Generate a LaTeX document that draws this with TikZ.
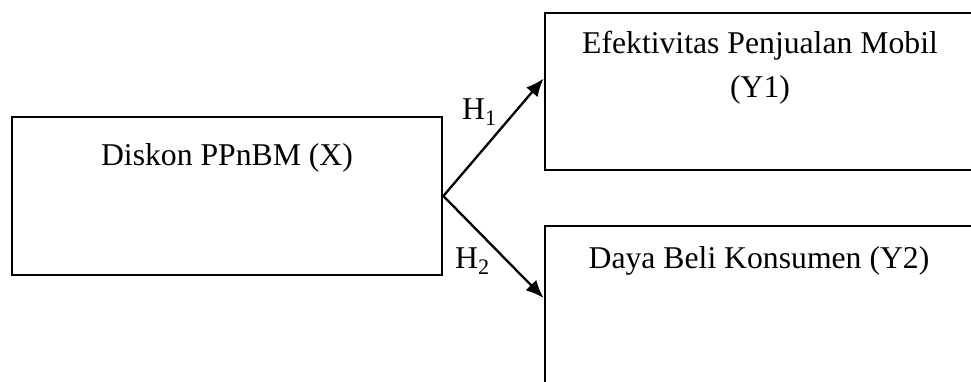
\documentclass[tikz,border=0pt]{standalone}
\usepackage{fontspec}
\setmainfont{Liberation Serif}
\usetikzlibrary{arrows.meta,calc}
\begin{document}
\begin{tikzpicture}[x=1pt,y=-1pt,
  box/.style={draw=black,line width=2.7pt,rectangle,inner sep=0pt},
  lbl/.style={inner sep=0pt,anchor=base,font=\fontsize{31.7}{44}\selectfont},
  arr/.style={line width=2.3pt,-{Latex[length=18pt,width=15pt]}}]
\useasboundingbox (0,0) rectangle (971,381);
\clip (0,0) rectangle (971,381);
\node[box,minimum width=430pt,minimum height=158pt] (x) at (227,196) {};
\node[box,minimum width=430pt,minimum height=157pt] (y1) at (760,91.5) {};
\node[box,minimum width=430pt,minimum height=164pt] (y2) at (760,308) {};
\node[lbl] (tx) at (227,165) {Diskon PPnBM (X)};
\node[lbl] (ty1a) at (760,53) {Efektivitas Penjualan Mobil};
\node[lbl] (ty1b) at (760,97) {(Y1)};
\node[lbl] (ty2) at (759,268) {Daya Beli Konsumen (Y2)};
\coordinate (e1) at ($(y1.west)+(0,-13)$);
\coordinate (e2) at ($(y2.west)+(0,-10)$);
\draw[arr] (x.east) -- (e1);
\draw[arr] (x.east) -- (e2);
\node[lbl,anchor=base west] (h1) at (462,119) {H\textsubscript{1}};
\node[lbl,anchor=base west] (h2) at (455,268) {H\textsubscript{2}};
\end{tikzpicture}
\end{document}
